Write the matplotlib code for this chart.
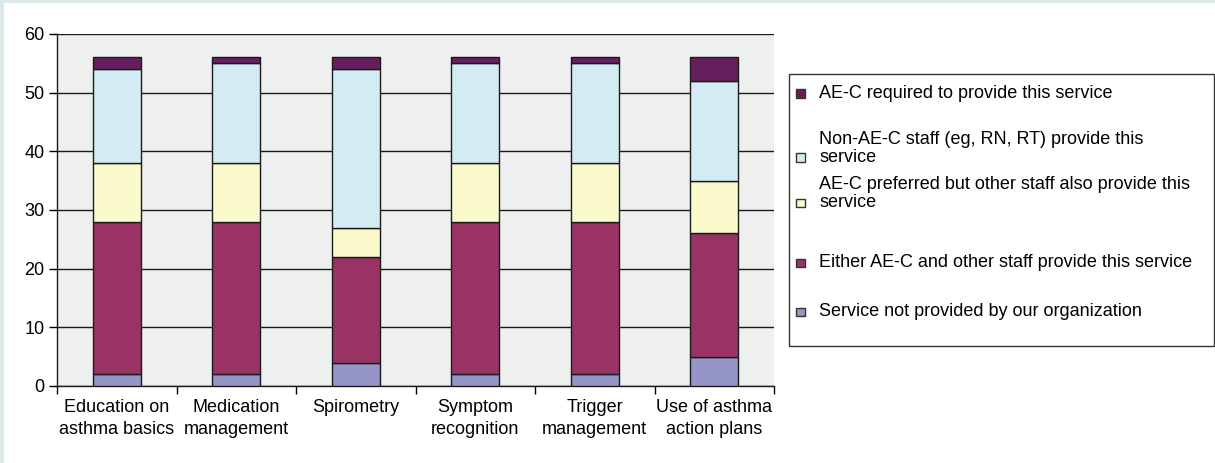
import matplotlib.pyplot as plt
import matplotlib.patches as mpatches
import numpy as np

plt.rcParams['font.family'] = ['Liberation Sans', 'DejaVu Sans']

# categories and stacked values (bottom -> top)
categories = ['Education on\nasthma basics', 'Medication\nmanagement', 'Spirometry',
              'Symptom\nrecognition', 'Trigger\nmanagement', 'Use of asthma\naction plans']
not_provided = [2, 2, 4, 2, 2, 5]
either = [26, 26, 18, 26, 26, 21]
preferred = [10, 10, 5, 10, 10, 9]
non_aec = [16, 17, 27, 17, 17, 17]
required = [2, 1, 2, 1, 1, 4]

series = [not_provided, either, preferred, non_aec, required]
colors = ['#9595c8', '#993366', '#fafacc', '#d3ebf2', '#651f5f']
labels = ['Service not provided by our organization',
          'Either AE-C and other staff provide this service',
          'AE-C preferred but other staff also provide this\nservice',
          'Non-AE-C staff (eg, RN, RT) provide this\nservice',
          'AE-C required to provide this service']

W, H = 1215, 463
fig = plt.figure(figsize=(W / 100, H / 100), dpi=100, facecolor='#dce9ec')
# white panel inside the light blue frame
fig.patches.append(mpatches.Rectangle((4 / W, 0), 1, 1 - 3 / H, transform=fig.transFigure,
                                      facecolor='white', edgecolor='none', zorder=-10))

ax = fig.add_axes([57 / W, 1 - 386 / H, (774 - 57) / W, (386 - 34) / H])
ax.set_facecolor('#eef0ef')

x = np.arange(len(categories))
bottom = np.zeros(len(categories))
for vals, c in zip(series, colors):
    ax.bar(x, vals, width=0.4, bottom=bottom, color=c, edgecolor='#1a1a1a', linewidth=1, zorder=3)
    bottom += np.array(vals)

ax.set_xlim(-0.5, len(categories) - 0.5)
ax.set_ylim(0, 60)
ax.set_yticks(range(0, 61, 10))
ax.yaxis.grid(True, color='#1a1a1a', linewidth=1)
ax.set_axisbelow(True)
ax.set_xticks(x)
ax.set_xticklabels(categories, fontsize=13, linespacing=1.45)
ax.set_xticks(np.arange(-0.5, len(categories), 1), minor=True)
ax.tick_params(axis='x', which='major', length=0, pad=9)
ax.tick_params(axis='x', which='minor', length=6, width=1, direction='out')
ax.tick_params(axis='y', length=6, width=1, labelsize=13, pad=3)
for s in ['top', 'right']:
    ax.spines[s].set_visible(False)
for s in ['left', 'bottom']:
    ax.spines[s].set_color('#1a1a1a')
    ax.spines[s].set_linewidth(1)

# legend drawn by hand so markers sit on the first line of each label
fig.patches.append(mpatches.Rectangle((789 / W, 1 - 346 / H), (1214 - 789) / W, (346 - 74) / H,
                                      transform=fig.transFigure, facecolor='white',
                                      edgecolor='#333333', linewidth=1, zorder=2))
baselines = [316, 267, 207, 162, 98]
for y, c, lab in zip(baselines, colors, labels):
    fig.patches.append(mpatches.Rectangle((796 / W, 1 - y / H), 8.5 / W, 8.5 / H,
                                          transform=fig.transFigure, facecolor=c,
                                          edgecolor='#333333', linewidth=1, zorder=3))
    fig.text(819 / W, 1 - y / H, lab, fontsize=13, va='baseline', ha='left',
             linespacing=1.1, zorder=4)

fig.savefig('out.png', dpi=100, facecolor=fig.get_facecolor())
